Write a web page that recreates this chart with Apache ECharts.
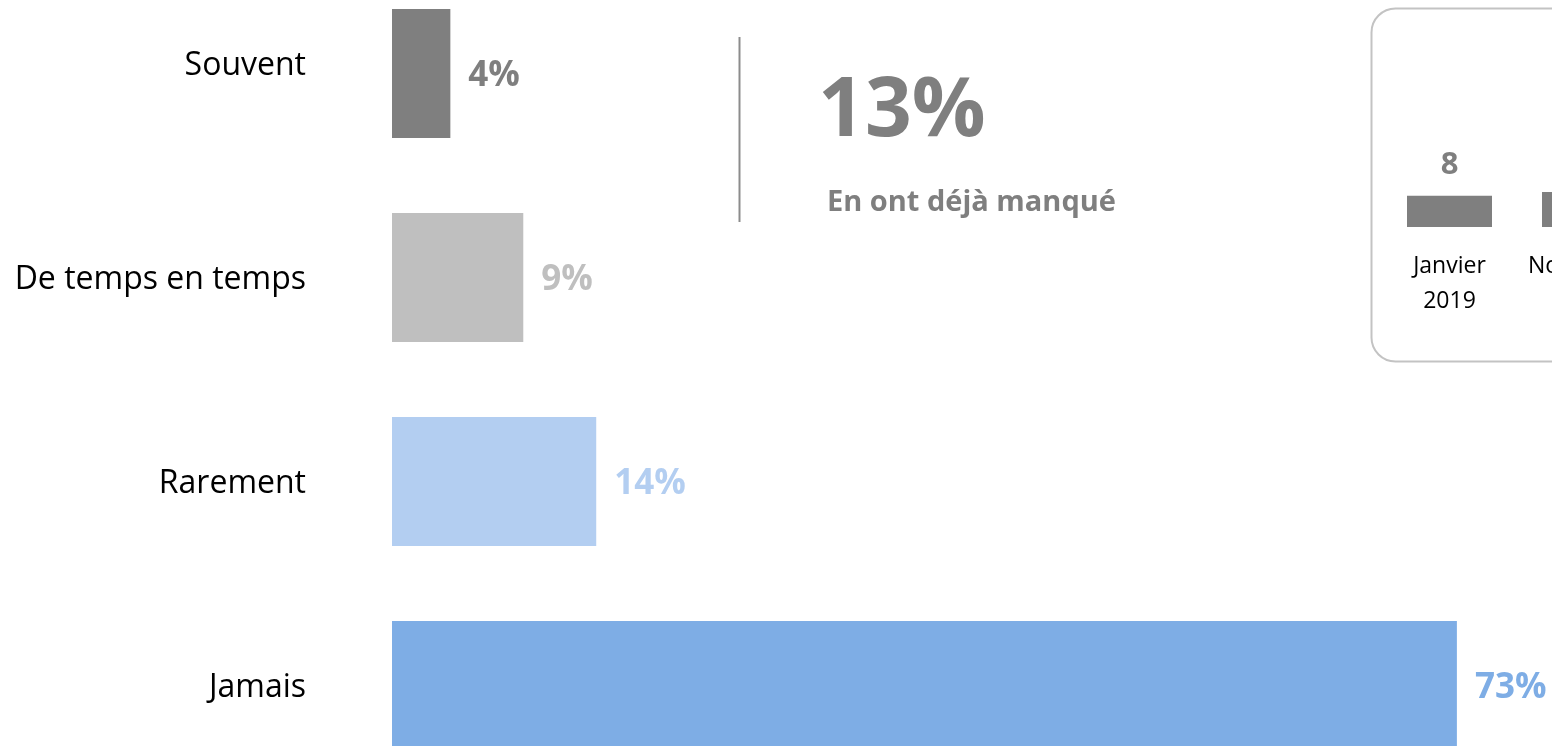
<!DOCTYPE html>
<html>
<head>
<meta charset="utf-8">
<script src="https://cdn.jsdelivr.net/npm/echarts@6/dist/echarts.min.js"></script>
<style>
html,body{margin:0;padding:0;background:#fff;overflow:hidden;width:1552px;height:746px;position:relative}
#c{position:absolute;left:0;top:-29px;width:1700px;height:820px}
</style>
</head>
<body>
<div id="c"></div>
<script>
const categories = ['Souvent', 'De temps en temps', 'Rarement', 'Jamais'];
const values = [4, 9, 14, 73];
const barColors = ['#7f7f7f', '#bfbfbf', '#b3cef1', '#7eade5'];
const headlineValue = 13;
const headlineText = 'En ont déjà manqué';
const insetCategories = ['Janvier\n2019', 'Novembre\n2019'];
const insetValues = [8, 9];

const FONT = '"Open Sans", "Noto Sans", sans-serif';
const OY = 29; // container offset above the page
const chart = echarts.init(document.getElementById('c'));
chart.setOption({
  animation: false,
  backgroundColor: '#fff',
  textStyle: { fontFamily: FONT },
  grid: [
    { left: 392, top: 0.5, width: 1167, height: 816, containLabel: false },
    { left: 1382, top: 149 + OY, width: 270, height: 78, containLabel: false }
  ],
  xAxis: [
    { gridIndex: 0, type: 'value', min: 0, max: 80, show: false },
    { gridIndex: 1, type: 'category', data: insetCategories,
      axisLine: { show: false }, axisTick: { show: false },
      axisLabel: { margin: 22, fontSize: 23, lineHeight: 35, color: '#000', fontFamily: FONT, interval: 0 } }
  ],
  yAxis: [
    { gridIndex: 0, type: 'category', data: categories, inverse: true,
      axisLine: { show: false }, axisTick: { show: false }, splitLine: { show: false },
      axisLabel: { margin: 86, fontSize: 32, color: '#000', fontFamily: FONT,
        formatter: (v, i) => i === 0 ? '{up|' + v + '}' : '{n|' + v + '}',
        rich: {
          up: { fontSize: 32, color: '#000', fontFamily: FONT, padding: [0, 0, 16, 0] },
          n: { fontSize: 32, color: '#000', fontFamily: FONT, padding: [5, 0, 0, 0] }
        } } },
    { gridIndex: 1, type: 'value', min: 0, max: 20, show: false }
  ],
  series: [
    { type: 'bar', xAxisIndex: 0, yAxisIndex: 0, barWidth: 129,
      data: values.map((v, i) => ({ value: v, itemStyle: { color: barColors[i] },
        label: { color: barColors[i] } })),
      label: { show: true, position: 'right', distance: 18, offset: [0, 3], fontSize: 35, fontWeight: 'bold',
        fontFamily: FONT, formatter: p => p.value + '%' } },
    { type: 'bar', xAxisIndex: 1, yAxisIndex: 1, barWidth: 85,
      itemStyle: { color: '#7f7f7f' }, data: insetValues,
      label: { show: true, position: 'top', distance: 15, fontSize: 31, fontWeight: 'bold',
        color: '#7f7f7f', fontFamily: FONT } }
  ],
  graphic: [
    { type: 'rect', z: -1, shape: { x: 1371.5, y: 8.5 + OY, width: 400, height: 353, r: 24 },
      style: { fill: 'none', stroke: '#c3c3c3', lineWidth: 2 } },
    { type: 'line', shape: { x1: 739.5, y1: 37 + OY, x2: 739.5, y2: 222 + OY },
      style: { stroke: '#8c8c8c', lineWidth: 2 } },
    { type: 'text', left: 818, top: 72 + OY,
      style: { text: headlineValue + '%', font: 'bold 82px ' + FONT, fill: '#7f7f7f' } },
    { type: 'text', left: 827, top: 188 + OY,
      style: { text: headlineText, font: 'bold 29px ' + FONT, fill: '#7f7f7f' } }
  ]
});
</script>
</body>
</html>
